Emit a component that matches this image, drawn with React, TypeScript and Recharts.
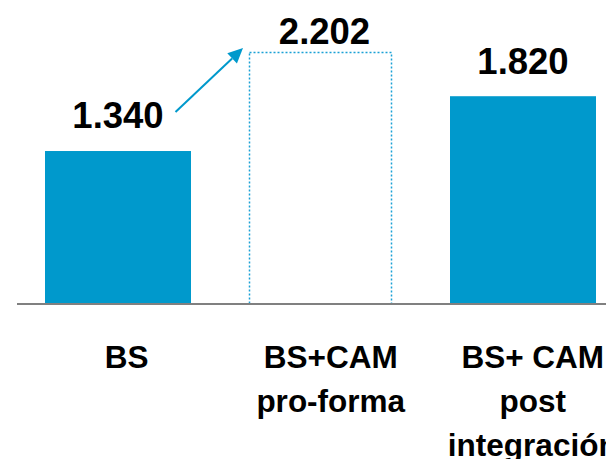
import React from 'react';
import { BarChart, Bar, XAxis, YAxis, LabelList } from 'recharts';

const categories = ['BS', 'BS+CAM\npro-forma', 'BS+ CAM\npost\nintegración'];
const values = [1340, 2202, 1820];
const proFormaFlags = [false, true, false];

const data = categories.map((c, i) => ({ name: c, value: values[i], proForma: proFormaFlags[i] }));

const BLUE = '#0099CC';
const DASH_BLUE = '#1BA1D5';
const FONT = '"Liberation Sans", Arial, Helvetica, sans-serif';
const LABEL_GAP = [23, 9, 22];
const LABEL_SHIFT = [0, 4, 0];
const TICK_SHIFT = [8.5, 10, 9.5];

const fmt = (v: number) => String(v).replace(/\B(?=(\d{3})+(?!\d))/g, '.');

function BarShape(props: any) {
  const { x, y, width, height, payload } = props;
  if (payload && payload.proForma) {
    return (
      <rect x={x + 2} y={y} width={width - 4} height={height} fill="none"
        stroke={DASH_BLUE} strokeWidth={1.5} strokeDasharray="2 2" />
    );
  }
  return <rect x={x} y={y} width={width} height={height} fill={BLUE} />;
}

function ValueLabel(props: any) {
  const { x, y, width, height, value } = props;
  const idx = props.index != null ? props.index : values.indexOf(Number(value));
  const cx = x + width / 2 + (LABEL_SHIFT[idx] || 0);
  const baseY = y - (LABEL_GAP[idx] || 0);
  let arrow = null;
  if (proFormaFlags[idx]) {
    const ppu = height / Number(value);
    const bottom = y + height;
    const sx = x - 72;
    const sy = bottom - values[0] * ppu - 39;
    const tx = x - 4.5;
    const ty = y - 4.5;
    const dx = tx - sx, dy = ty - sy;
    const len = Math.sqrt(dx * dx + dy * dy);
    const ux = dx / len, uy = dy / len;
    const bx = tx - 15 * ux, by = ty - 15 * uy;
    const px = -uy * 7, py = ux * 7;
    arrow = (
      <g>
        <line x1={sx} y1={sy} x2={bx} y2={by} stroke={BLUE} strokeWidth={2} />
        <polygon points={`${tx},${ty} ${bx + px},${by + py} ${bx - px},${by - py}`} fill={BLUE} />
      </g>
    );
  }
  return (
    <g>
      {arrow}
      <text x={cx} y={baseY} textAnchor="middle" fontFamily={FONT} fontWeight="bold"
        fontSize={36.5} fill="#000">{fmt(Number(value))}</text>
    </g>
  );
}

function CategoryTick(props: any) {
  const { x, y, payload, index } = props;
  const lines = String(payload.value).split('\n');
  const cx = x + (TICK_SHIFT[index] || 0);
  return (
    <text x={cx} y={y} textAnchor="middle" fontFamily={FONT} fontWeight="bold" fontSize={31.5} fill="#000">
      {lines.map((l, i) => (
        <tspan key={i} x={cx} y={y + 64 + i * 44}>{l}</tspan>
      ))}
    </text>
  );
}

export default function App() {
  return (
    <div style={{ position: 'fixed', left: 0, top: 0, width: 606, height: 459, overflow: 'hidden', background: '#fff' }}>
      <BarChart width={640} height={459} data={data}
        margin={{ top: 30, right: 15.5, left: 17, bottom: 0 }}>
        <XAxis dataKey="name" height={155} tickLine={false} tickSize={0} tickMargin={0}
          axisLine={{ stroke: '#808080', strokeWidth: 2 }} tick={<CategoryTick />} interval={0} />
        <YAxis hide domain={[0, 2400]} />
        <Bar dataKey="value" barSize={146} shape={<BarShape />} isAnimationActive={false}>
          <LabelList dataKey="value" content={<ValueLabel />} />
        </Bar>
      </BarChart>
    </div>
  );
}
